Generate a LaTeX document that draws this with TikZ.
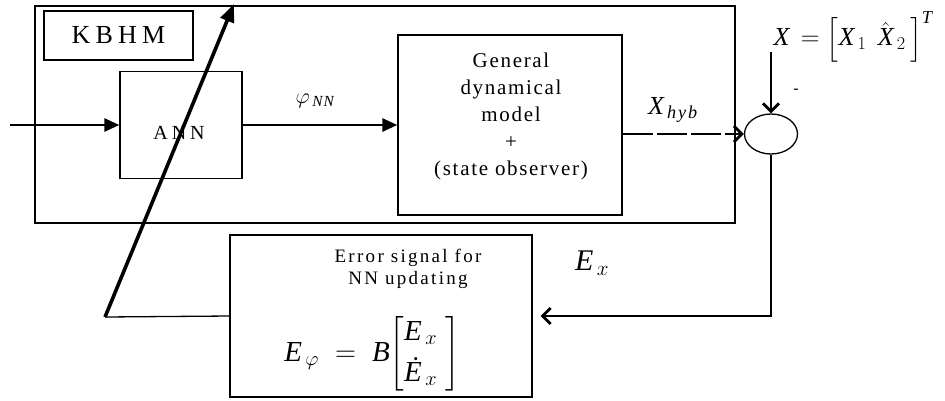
\RequirePackage{fix-cm}
\documentclass[tikz,border=0pt]{standalone}
\usepackage{amsmath}
\usepackage{fontspec}
\setmainfont{Liberation Serif}
\newfontfamily\spacedA[LetterSpace=20]{Liberation Serif}
\newfontfamily\spacedB[LetterSpace=12]{Liberation Serif}
\newfontfamily\spacedC[LetterSpace=8]{Liberation Serif}
\newcommand{\tv}[1]{\text{\itshape #1}}
\usetikzlibrary{arrows.meta,shapes.geometric}
\begin{document}
\begin{tikzpicture}[x=1pt,y=-1pt,
  box/.style={draw,line width=1.3pt,inner sep=0pt},
  thin/.style={line width=1.3pt},
  sig/.style={line width=2.8pt},
  fillarrow/.style={sig,-{Triangle[length=15pt,width=13pt]}},
  openarrow/.style={sig,-{Straight Barb[length=8pt,width=16pt,line width=2.8pt]}},
  lbl/.style={inner sep=0pt,align=center}]
\useasboundingbox (0,0) rectangle (945,400);
% boxes
\node[box,minimum width=700pt,minimum height=217pt] (kbhm) at (385,114.5) {};
\node[box,minimum width=149pt,minimum height=49pt,font=\spacedA\fontsize{26}{30}\selectfont] (kbhmlbl) at (118.5,35.5) {KBHM};
\node[box,minimum width=122pt,minimum height=107pt] (ann) at (181,125) {};
\node[lbl,font=\spacedA\fontsize{20}{24}\selectfont] (anntxt) at (179,133) {ANN};
\node[box,minimum width=224pt,minimum height=180pt] (gdm) at (510,125) {};
\node[lbl,font=\spacedC\fontsize{21}{27}\selectfont] (gdmtxt) at (511,116) {General\\dynamical\\model\\+\\(state observer)};
\node[draw,line width=1.3pt,ellipse,minimum width=53pt,minimum height=40pt,inner sep=0pt] (sum) at (771,134) {};
\node[box,minimum width=302pt,minimum height=162pt] (err) at (381,316) {};
\node[lbl,font=\spacedB\fontsize{19}{22.5}\selectfont] (errtxt) at (408,269) {Error signal for\\NN updating};
\node[lbl,font=\fontsize{29}{34}\selectfont] (errform) at (372,354) {$\tv{E}_{\,\varphi}\;=\;\tv{B}\!\left[\begin{matrix} \tv{E}_{\,x}\\[7pt] \tv{Ė}_{\,x}\end{matrix}\;\right]$};
% labels
\node[lbl,font=\fontsize{22}{24}\selectfont] (phi) at (315,101) {$\varphi_{\,\tv{N\kern1pt N}}$};
\node[lbl,font=\fontsize{26}{28}\selectfont] (xhyb) at (673,110) {$\tv{X}_{\,\tv{h\kern2pt y\kern2pt b}}$};
\node[lbl,font=\fontsize{26}{28}\selectfont] (xeq) at (853,37) {$\tv{X}\,=\Bigl[\tv{X}_{\,1}\;\,\hat{\tv{X}}_{\,2}\,\Bigr]^{\tv{T}}$};
\node[lbl,font=\fontsize{16}{18}\selectfont] (minus) at (796,91) {-};
\node[lbl,font=\fontsize{30}{32}\selectfont] (ex) at (592,263) {$\tv{E}_{\,x}$};
% coordinates
\coordinate (in) at (10,125);
\coordinate (xtop) at (771,52);
\coordinate (tb) at (105,317);
\coordinate (tt) at (234,4);
% connectors
\draw[fillarrow] (in) -- (ann.west);
\draw[fillarrow] (ann.east) -- (gdm.west);
\draw[sig,dash pattern=on 30pt off 4pt,-{Straight Barb[length=8pt,width=16pt,line width=2.8pt]}] (gdm.east |- sum.west) -- (sum.west);
\draw[openarrow] (xtop) -- (sum.north);
\draw[sig,shorten >=8pt,-{Straight Barb[length=8pt,width=16pt,line width=2.8pt]}] (sum.south) |- (err.east);
\draw[thin] (err.west) -- (tb);
\draw[line width=3.6pt,-{Triangle[length=18pt,width=14pt]}] (tb) -- (tt);
\end{tikzpicture}
\end{document}
